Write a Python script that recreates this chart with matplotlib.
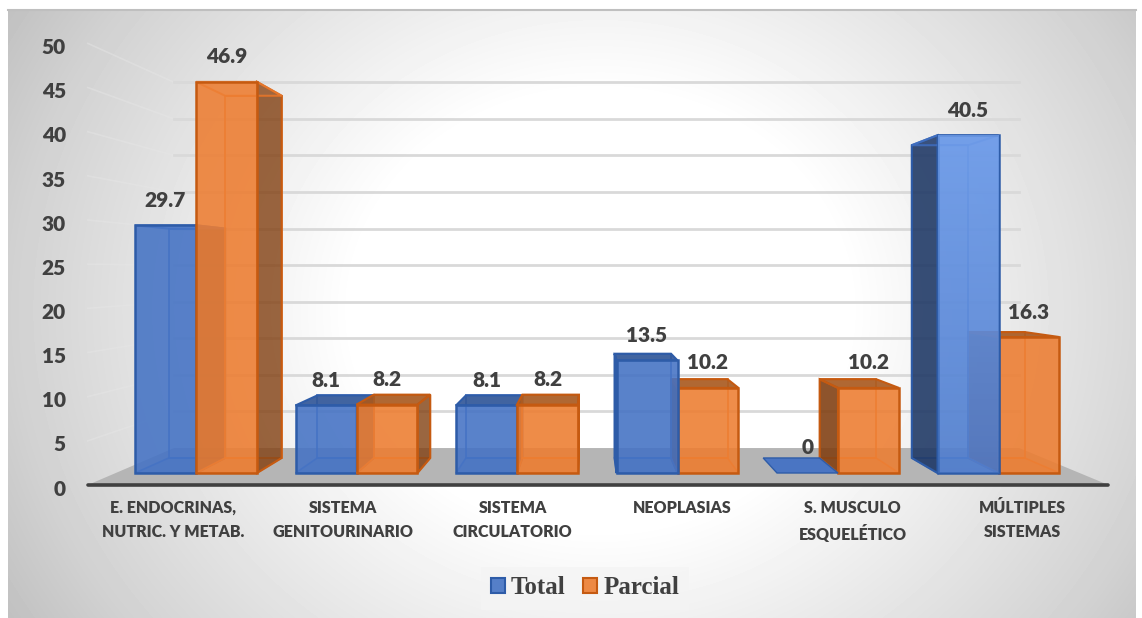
import numpy as np
import matplotlib
matplotlib.use('Agg')
import matplotlib.pyplot as plt
from matplotlib.colors import to_rgba
from matplotlib.patches import Patch, Polygon

categories = ['E. ENDOCRINAS,\nNUTRIC. Y METAB.', 'SISTEMA\nGENITOURINARIO', 'SISTEMA\nCIRCULATORIO',
              'NEOPLASIAS', 'S. MUSCULO\nESQUELÉTICO', 'MÚLTIPLES\nSISTEMAS']
total = [29.7, 8.1, 8.1, 13.5, 0, 40.5]
parcial = [46.9, 8.2, 8.2, 10.2, 10.2, 16.3]
y_ticks = [0, 5, 10, 15, 20, 25, 30, 35, 40, 45, 50]

# pixel layout of the front plane of the bars
PX_X0, PX_PER_CAT = 196, 160.5
PX_Y0, PX_PER_UNIT = 473, 8.34
W, H = 1142, 618


def dx(px):
    return (px - PX_X0) / PX_PER_CAT


def dy(py):
    return (PX_Y0 - py) / PX_PER_UNIT


# perspective: depth 0 is the bar front, everything runs to the vanishing point
VX, VY = dx(590), dy(270)
BAR_D = 0.074
WALL_D = 0.123
AXIS_D = -0.059
X_LEFT, X_RIGHT = -0.5, 5.505
BAR_W = 0.38


def proj(x, y, d):
    return (x + (VX - x) * d, y + (VY - y) * d)


fig = plt.figure(figsize=(W / 100, H / 100), dpi=100)
ax = fig.add_axes([0, 0, 1, 1])
ax.axis('off')

# background
xx, yy = np.meshgrid(np.arange(8, 1136), np.arange(10, 618))
t = np.sqrt(((xx - 600) / 590.0) ** 2 + ((yy - 310) / 520.0) ** 2)
g = np.interp(t, [0, 0.42, 1.0, 1.2], [1, 1, 0.82, 0.74])
ax.imshow(g, cmap='gray', vmin=0, vmax=1, extent=(dx(8), dx(1136), dy(618), dy(10)),
          aspect='auto', zorder=0, interpolation='bilinear')
ax.plot([dx(8), dx(1136)], [dy(10), dy(10)], color='#bfbfbf', lw=1.5, zorder=1)

# floor
floor = [proj(X_LEFT, 0, AXIS_D), proj(X_RIGHT, 0, AXIS_D), proj(X_RIGHT, 0, WALL_D), proj(X_LEFT, 0, WALL_D)]
ax.add_patch(Polygon(floor, fc='#b5b5b5', ec='none', zorder=1.5))

# gridlines on back wall and left wall
for v in y_ticks[1:]:
    a = proj(X_LEFT, v, AXIS_D)
    b = proj(X_LEFT, v, WALL_D)
    c = proj(X_RIGHT, v, WALL_D)
    ax.plot([a[0], b[0]], [a[1], b[1]], color='#e6e6e6', lw=1.2, alpha=0.45, zorder=2)
    ax.plot([b[0], c[0]], [b[1], c[1]], color='#d9d9d9', lw=2, zorder=2)

# axis line
a = proj(X_LEFT, 0, AXIS_D)
b = proj(X_RIGHT, 0, AXIS_D)
ax.plot([a[0], b[0]], [a[1], b[1]], color='#404040', lw=2.6, zorder=3, solid_capstyle='round')

styles = {
    'Total': dict(face='#4472c4', edge='#2e5ca8', side='#1f3864', top='#2f5597'),
    'Parcial': dict(face='#ed7d31', edge='#c55a11', side='#7f3f12', top='#a8591f'),
}


def draw_bar(x0, x1, v, st, z):
    fc = to_rgba(st['face'], 0.87)
    inner = to_rgba(st['face'], 0.1)
    faint = to_rgba(st['face'], 0.05)
    edge = st['edge']
    F = [(x0, 0), (x1, 0), (x1, v), (x0, v)]
    B = [proj(px, py, BAR_D) for px, py in F]

    if v == 0:
        ax.add_patch(Polygon([F[0], F[1], B[1], B[0]], fc=to_rgba(st['face'], 0.95), ec=edge,
                             lw=1, zorder=z))
        return

    ax.add_patch(Polygon(B, fc=to_rgba(st['face'], 0.12), ec=to_rgba(st['face'], 0.8), lw=1.4, zorder=z))
    ax.add_patch(Polygon([F[0], F[1], B[1], B[0]], fc=to_rgba(st['face'], 0.3), ec=to_rgba(st['face'], 0.8),
                         lw=1.2, zorder=z))

    # side facing the viewer gets the dark shade, the other one stays see-through
    right_seen = x1 < VX
    left_seen = x0 > VX
    ax.add_patch(Polygon([F[1], B[1], B[2], F[2]],
                         fc=to_rgba(st['side'], 0.78) if right_seen else faint,
                         ec=edge if right_seen else 'none', lw=1.5, zorder=z))
    ax.add_patch(Polygon([F[0], B[0], B[3], F[3]],
                         fc=to_rgba(st['side'], 0.88) if left_seen else faint,
                         ec=edge if left_seen else 'none', lw=1.5, zorder=z))

    # the top is only seen from above when it is under the horizon
    top_seen = v < VY
    ax.add_patch(Polygon([F[3], F[2], B[2], B[3]],
                         fc=to_rgba(st['top'], 0.9) if top_seen else inner,
                         ec=edge if top_seen else to_rgba(st['face'], 0.8), lw=1.5, zorder=z))

    bar = ax.bar((x0 + x1) / 2, v, width=x1 - x0, color=[fc], edgecolor=edge, linewidth=1.8, zorder=z)
    return bar[0]


# paint the bars farthest from the vanishing point first
positions = np.arange(len(categories))
z = 4.0
for i, pos in enumerate(positions):
    pair = [('Total', pos - BAR_W, pos, total[i]), ('Parcial', pos, pos + BAR_W, parcial[i])]
    if pos > VX:
        pair = pair[::-1]
    for name, x0, x1, v in pair:
        front = draw_bar(x0, x1, v, styles[name], z)
        if name == 'Total' and i == 5:
            # last blue bar catches more light near its top
            rgba = np.ones((64, 1, 4))
            rgba[:, :, :3] = to_rgba('#86b4ff')[:3]
            rgba[:, :, 3] = np.linspace(0.6, 0.15, 64).reshape(-1, 1)
            im = ax.imshow(rgba, extent=(x0, x1, 0, v), aspect='auto', zorder=z + 0.01)
            im.set_clip_path(front)
        z += 0.1

ax.set_xlim(dx(0), dx(W))
ax.set_ylim(dy(H), dy(0))

# value labels
txt = dict(color='#404040', fontweight=800, family='Lato', zorder=10)
for i, pos in enumerate(positions):
    ax.text(pos - BAR_W / 2, total[i] + 3.0, f'{total[i]:g}', ha='center', va='center', fontsize=15, **txt)
    ax.text(pos + BAR_W / 2, parcial[i] + 3.0, f'{parcial[i]:g}', ha='center', va='center', fontsize=15, **txt)

# axis labels sit on the front edge of the floor
for v in y_ticks:
    tx, ty = proj(X_LEFT, v, AXIS_D)
    ax.text(dx(66), ty - 0.5, str(v), ha='right', va='center', fontsize=15, **txt)
for pos, name in zip(positions, categories):
    tx, ty = proj(pos, 0, AXIS_D)
    ax.text(tx, dy(500), name, ha='center', va='top', fontsize=11.5, linespacing=1.62, **txt)

handles = [Patch(fc=to_rgba(s['face'], 0.9), ec=s['edge'], lw=1.5) for s in styles.values()]
ax.legend(handles, list(styles.keys()), loc='center', bbox_to_anchor=(585 / W, 1 - 588 / H),
          ncol=2, frameon=True, facecolor='#f4f4f4', edgecolor='none', framealpha=0.7, fancybox=False,
          prop={'family': 'Liberation Serif', 'weight': 'bold', 'size': 18}, labelcolor='#404040',
          handlelength=0.55, handleheight=0.55, handletextpad=0.25, columnspacing=0.7, borderpad=0.4)

fig.savefig('out.png', dpi=100)
